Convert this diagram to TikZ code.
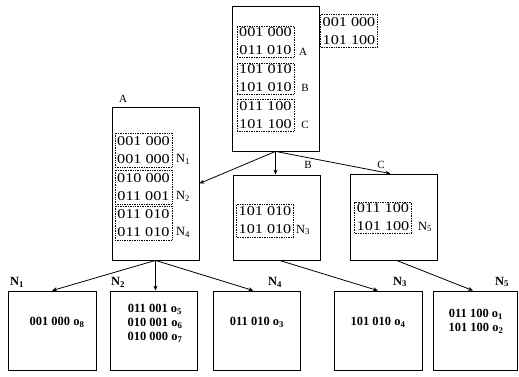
\documentclass[tikz,border=0pt]{standalone}
\usepackage{fontspec}
\setmainfont{Liberation Serif}
\newfontfamily\codefont[FakeStretch=1.2]{Liberation Serif}
\usetikzlibrary{arrows.meta}
\tikzset{
  box/.style={draw, line width=0.8pt, inner sep=0pt},
  dbox/.style={draw, densely dotted, line width=0.7pt, inner sep=0pt, minimum width=57pt,
    align=center, font=\codefont\fontsize{13.5}{18}\selectfont},
  lab/.style={font=\fontsize{11}{12}\selectfont, inner sep=0pt},
  nlab/.style={font=\fontsize{12.5}{13}\selectfont, inner sep=0pt},
  bnlab/.style={font=\bfseries\fontsize{12.5}{13}\selectfont, inner sep=0pt},
  leaf/.style={box, minimum height=79pt},
  leaftext/.style={inner sep=0pt, align=center, font=\bfseries\fontsize{12.5}{14}\selectfont},
  arr/.style={line width=0.8pt, -{Stealth[length=5pt,width=4pt]}}
}
\begin{document}
\begin{tikzpicture}[x=1pt,y=-1pt]
\useasboundingbox (0,0) rectangle (519,376);
% upper boxes
\node[box, minimum width=87pt, minimum height=145pt] (top) at (275.5,78.5) {};
\node[box, minimum width=87pt, minimum height=153pt] (A) at (155.5,183.5) {};
\node[box, minimum width=87pt, minimum height=85pt] (B) at (276.5,217.5) {};
\node[box, minimum width=87pt, minimum height=86pt] (C) at (393.5,217) {};
% top contents
\node[dbox, minimum height=31pt] (t1) at (265.5,41.5) {001 000\\011 010};
\node[dbox, minimum height=31pt] (t2) at (265.5,78.5) {101 010\\101 010};
\node[dbox, minimum height=32pt] (t3) at (265.5,115) {011 100\\101 100};
\node[lab] (tA) at (303,52) {A};
\node[lab] (tB) at (305,88) {B};
\node[lab] (tC) at (305,125) {C};
\node[dbox, minimum height=33pt] (r1) at (349,31) {001 000\\101 100};
% A contents
\node[lab] (lA) at (123,99) {A};
\node[dbox, minimum height=34pt] (a1) at (143.5,150) {001 000\\001 000};
\node[dbox, minimum height=34pt] (a2) at (143.5,187) {010 000\\011 001};
\node[dbox, minimum height=34pt] (a3) at (143.5,223) {011 010\\011 010};
\node[nlab] (aN1) at (183,159) {N\textsubscript{1}};
\node[nlab] (aN2) at (183,196) {N\textsubscript{2}};
\node[nlab] (aN4) at (183,232) {N\textsubscript{4}};
% B contents
\node[lab] (lB) at (308,165) {B};
\node[dbox, minimum height=33pt] (b1) at (265,220.5) {101 010\\101 010};
\node[nlab] (bN3) at (303,230) {N\textsubscript{3}};
% C contents
\node[lab] (lC) at (381,165) {C};
\node[dbox, minimum height=31pt] (c1) at (383,217.5) {011 100\\101 100};
\node[nlab] (cN5) at (425,227) {N\textsubscript{5}};
% leaves
\node[leaf, minimum width=88pt] (L1) at (52,330.5) {};
\node[leaf, minimum width=87pt] (L2) at (153.5,330.5) {};
\node[leaf, minimum width=87pt] (L3) at (256.5,330.5) {};
\node[leaf, minimum width=88pt] (L4) at (378,330.5) {};
\node[leaf, minimum width=84pt] (L5) at (475,330.5) {};
\node[leaftext] (x1) at (57,322) {001 000 o\textsubscript{8}};
\node[leaftext] (x2) at (155,323) {011 001 o\textsubscript{5}\\010 001 o\textsubscript{6}\\010 000 o\textsubscript{7}};
\node[leaftext] (x3) at (257,322) {011 010 o\textsubscript{3}};
\node[leaftext] (x4) at (378,322) {101 010 o\textsubscript{4}};
\node[leaftext] (x5) at (476,321.5) {011 100 o\textsubscript{1}\\101 100 o\textsubscript{2}};
\node[bnlab] (n1) at (17,282) {N\textsubscript{1}};
\node[bnlab] (n2) at (118,282) {N\textsubscript{2}};
\node[bnlab] (n4) at (275,282) {N\textsubscript{4}};
\node[bnlab] (n3) at (400,282) {N\textsubscript{3}};
\node[bnlab] (n5) at (502,282) {N\textsubscript{5}};
% connectors
\draw[arr] (top.south) -- (A.east);
\draw[arr] (top.south) -- (top.south |- B.north);
\draw[arr] (top.south) -- ([xshift=-3pt]C.north);
\draw[arr] (A.south) -- (L1.north);
\draw[arr] (A.south) -- (A.south |- L2.north);
\draw[arr] (A.south) -- ([xshift=-3pt]L3.north);
\draw[arr] ([xshift=3pt]B.south) -- (L4.north);
\draw[arr] ([xshift=3pt]C.south) -- ([xshift=-2pt]L5.north);
\end{tikzpicture}
\end{document}
